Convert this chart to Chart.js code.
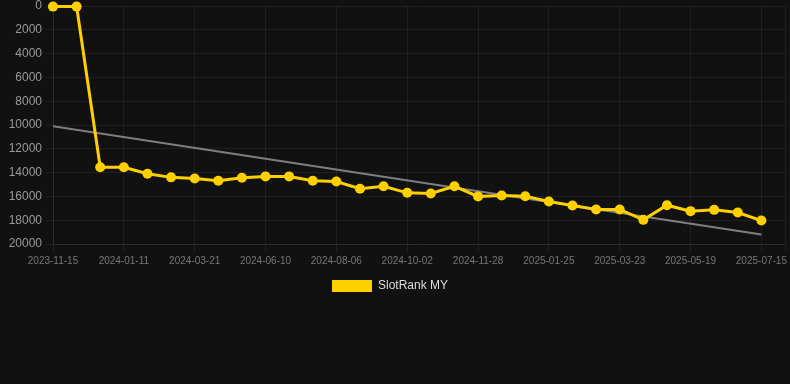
<!DOCTYPE html>
<html>
<head>
<meta charset="utf-8">
<script src="https://cdn.jsdelivr.net/npm/chart.js@4.4.1/dist/chart.umd.min.js"></script>
<style>
  html, body { margin: 0; padding: 0; background: #111111; }
  #wrap { width: 790px; height: 302px; position: relative; }
</style>
</head>
<body>
<div id="wrap"><canvas id="rankChart"></canvas></div>
<script>
// dates of each sample (only every 3rd is shown as a tick)
const dates = [
  '2023-11-15', '2023-12-04', '2023-12-23', '2024-01-11', '2024-02-03', '2024-02-26',
  '2024-03-21', '2024-04-17', '2024-05-14', '2024-06-10', '2024-06-29', '2024-07-18',
  '2024-08-06', '2024-08-25', '2024-09-13', '2024-10-02', '2024-10-21', '2024-11-09',
  '2024-11-28', '2024-12-17', '2025-01-05', '2025-01-25', '2025-02-13', '2025-03-04',
  '2025-03-23', '2025-04-11', '2025-04-30', '2025-05-19', '2025-06-07', '2025-06-26',
  '2025-07-15'
];

const ranks = [
  50, 50, 13550, 13550, 14090, 14400, 14490, 14680, 14430, 14320, 14320,
  14680, 14750, 15350, 15150, 15700, 15750, 15150, 16000, 15920, 15980,
  16430, 16770, 17100, 17100, 17970, 16740, 17240, 17130, 17360, 18030
];

// trend line end values
const trendStart = 10100;
const trendEnd = 19200;

const yTicks = { min: 0, max: 20000, step: 2000 };

const rankPoints = ranks.map((v, i) => ({ x: i, y: v }));
const trendPoints = [
  { x: 0, y: trendStart },
  { x: dates.length - 1, y: trendEnd }
];

const font = { family: 'Liberation Sans, Arial, sans-serif' };
const gridColor = 'rgba(255,255,255,0.06)';

// legend sits a little left of centre in the original
const legendShift = {
  id: 'legendShift',
  afterLayout(chart) {
    if (chart.legend) chart.legend.right -= 10;
  }
};

new Chart(document.getElementById('rankChart').getContext('2d'), {
  type: 'line',
  plugins: [legendShift],
  data: {
    datasets: [
      {
        label: 'SlotRank MY',
        data: rankPoints,
        borderColor: '#ffd000',
        backgroundColor: '#ffd000',
        borderWidth: 3,
        pointRadius: 5,
        pointBackgroundColor: '#ffd000',
        pointBorderColor: '#ffd000',
        pointBorderWidth: 0,
        tension: 0,
        clip: false,
        order: 1
      },
      {
        label: 'Trend',
        data: trendPoints,
        borderColor: 'rgba(140,140,140,0.9)',
        borderWidth: 2,
        pointRadius: 0,
        tension: 0,
        order: 2
      }
    ]
  },
  options: {
    responsive: true,
    maintainAspectRatio: false,
    animation: false,
    layout: { padding: 0 },
    plugins: {
      tooltip: { enabled: false },
      legend: {
        position: 'bottom',
        labels: {
          color: '#dddddd',
          boxWidth: 40,
          boxHeight: 12,
          font: { ...font, size: 12 },
          filter: item => item.text !== 'Trend',
          generateLabels: chart =>
            Chart.defaults.plugins.legend.labels.generateLabels(chart)
              .map(l => ({ ...l, lineWidth: 0 }))
        }
      }
    },
    scales: {
      x: {
        type: 'linear',
        bounds: 'data',
        min: 0,
        max: 31.0,
        afterFit: s => { s.paddingLeft = 0; s.paddingRight = 0; },
        grid: { color: gridColor, tickColor: gridColor },
        border: { color: gridColor },
        ticks: {
          stepSize: 3,
          includeBounds: false,
          autoSkip: false,
          maxRotation: 0,
          color: '#777777',
          font: { ...font, size: 10 },
          callback: v => dates[v] || ''
        }
      },
      y: {
        reverse: true,
        min: yTicks.min,
        max: yTicks.max,
        afterFit: s => { s.width = 53; s.paddingTop = 6; },
        grid: { color: gridColor, tickColor: gridColor },
        border: { color: gridColor },
        ticks: {
          stepSize: yTicks.step,
          color: '#999999',
          font: { ...font, size: 12 },
          callback: v => String(v)
        }
      }
    }
  }
});
</script>
</body>
</html>
